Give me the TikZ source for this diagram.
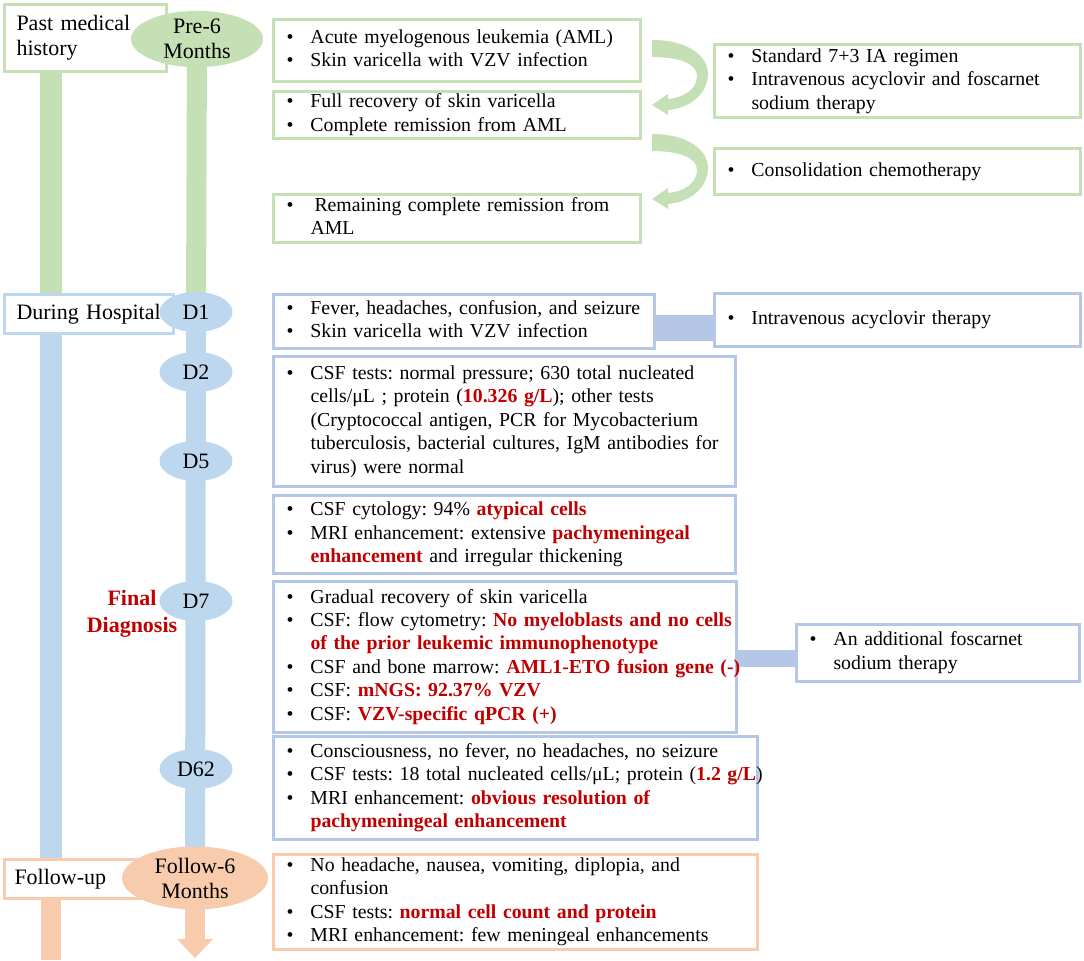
\documentclass[tikz,border=0pt]{standalone}
\usepackage{fontspec}
\setmainfont{Liberation Serif}
\usetikzlibrary{shapes.geometric,calc}
\pgfdeclarelayer{bg}
\pgfsetlayers{bg,main}
\definecolor{gr}{HTML}{C5E0B4}
\definecolor{bl}{HTML}{BDD7EE}
\definecolor{blb}{HTML}{B4C7E7}
\definecolor{orc}{HTML}{F8CBAD}
\definecolor{redc}{HTML}{C00000}
\frenchspacing
\newcommand{\bodyf}{\fontsize{14.85pt}{17.6pt}\selectfont}
\newcommand{\labf}{\fontsize{16.5pt}{18.75pt}\selectfont}
\newcommand{\rb}[1]{\textcolor{redc}{\textbf{#1}}}
\newcommand{\blist}[1]{\noindent\hspace*{9.75pt}\begin{tabular}{@{}p{18pt}@{}l@{}}#1\end{tabular}}
\newcommand{\bu}{\textbullet}
\begin{document}
\begin{tikzpicture}[x=0.75pt,y=-0.75pt,
  tbox/.style={draw, line width=2.25pt, fill=white, anchor=north west, inner xsep=0pt, inner ysep=0pt, align=left, font=\bodyf},
  lab/.style={draw, line width=2.25pt, fill=white, anchor=north west, inner xsep=9pt, inner ysep=0pt, align=left, font=\labf},
  ell/.style={ellipse, inner sep=0pt, align=center, font=\labf},
  dell/.style={ell, fill=bl, minimum width=54.75pt, minimum height=30pt}
]
\useasboundingbox (0,0) rectangle (1084,960);
\coordinate (lx) at (51,0);
\coordinate (lend) at (51,960);
\coordinate (oarr) at (195,958);

% right-hand content boxes
\node[tbox, draw=gr, text width=275.25pt, minimum height=46.5pt] (g1) at (272,18)
  {\blist{\bu & Acute myelogenous leukemia (AML)\\ \bu & Skin varicella with VZV infection}};
\node[tbox, draw=gr, text width=275.25pt, minimum height=35.25pt] (g2) at (272,90)
  {\blist{\bu & Full recovery of skin varicella\\ \bu & Complete remission from AML}};
\node[tbox, draw=gr, text width=275.25pt, minimum height=36pt] (g3) at (272,193)
  {\blist{\bu & \hspace{3pt}Remaining complete remission from\\ & AML}};
\node[tbox, draw=gr, text width=274.5pt, minimum height=54.75pt] (ga) at (713,43)
  {\blist{\bu & Standard 7+3 IA regimen\\ \bu & Intravenous acyclovir and foscarnet\\ & sodium therapy}};
\node[tbox, draw=gr, text width=274.5pt, minimum height=34.5pt] (gb) at (713,147)
  {\blist{\bu & Consolidation chemotherapy}};
\node[tbox, draw=blb, text width=274.5pt, minimum height=39.75pt] (bc) at (713,292)
  {\blist{\bu & Intravenous acyclovir therapy}};
\node[tbox, draw=blb, text width=285.75pt, minimum height=40.5pt] (b1) at (272,293)
  {\blist{\bu & Fever, headaches, confusion, and seizure\\ \bu & Skin varicella with VZV infection}};
\node[tbox, draw=blb, text width=346.5pt, minimum height=97.5pt] (b2) at (272,355)
  {\blist{\bu & CSF tests: normal pressure; 630 total nucleated\\ & cells/μL ; protein (\rb{10.326 g/L}); other tests\\ & (Cryptococcal antigen, PCR for Mycobacterium\\ & tuberculosis, bacterial cultures, IgM antibodies for\\ & virus) were normal}};
\node[tbox, draw=blb, text width=346.5pt, minimum height=58.5pt] (b5) at (272,494)
  {\blist{\bu & CSF cytology: 94\% \rb{atypical cells}\\ \bu & MRI enhancement: extensive \rb{pachymeningeal}\\ & \rb{enhancement} and irregular thickening}};
\node[tbox, draw=blb, text width=347.25pt, minimum height=113.25pt] (b7) at (272,580)
  {\blist{\bu & Gradual recovery of skin varicella\\ \bu & CSF: flow cytometry: \rb{No myeloblasts and no cells}\\ & \rb{of the prior leukemic immunophenotype}\\ \bu & CSF and bone marrow: \rb{AML1-ETO fusion gene (-)}\\ \bu & CSF: \rb{mNGS: 92.37\% VZV}\\ \bu & CSF: \rb{VZV-specific qPCR (+)}}};
\node[tbox, draw=blb, text width=363pt, minimum height=77.25pt] (b62) at (272,735)
  {\blist{\bu & Consciousness, no fever, no headaches, no seizure\\ \bu & CSF tests: 18 total nucleated cells/μL; protein (\rb{1.2 g/L})\\ \bu & MRI enhancement: \rb{obvious resolution of}\\ & \rb{pachymeningeal enhancement}}};
\node[tbox, draw=blb, text width=212.25pt, minimum height=42.75pt] (bf) at (795,623)
  {\blist{\bu & An additional foscarnet\\ & sodium therapy}};
\node[tbox, draw=orc, text width=363pt, minimum height=71.25pt] (o1) at (272,853)
  {\blist{\bu & No headache, nausea, vomiting, diplopia, and\\ & confusion\\ \bu & CSF tests: \rb{normal cell count and protein}\\ \bu & MRI enhancement: few meningeal enhancements}};

% left phase labels
\node[lab, draw=gr, text width=103.5pt, minimum height=50.25pt] (past) at (3,3) {Past medical\\history};
\node[lab, draw=bl, text width=108.75pt, minimum height=29.25pt] (during) at (3,293) {During Hospital};
\node[lab, draw=orc, text width=103.5pt, minimum height=29.25pt, inner xsep=7.5pt] (follow) at (3,858) {Follow-up};

% time ellipses
\node[ell, fill=gr, minimum width=99pt, minimum height=39pt] (pre) at (197,39) {Pre-6\\Months};
\node[dell] (d1) at (196,312) {D1};
\node[dell] (d2) at (196,372) {D2};
\node[dell] (d5) at (196,461) {D5};
\node[dell] (d7) at (196,601) {D7};
\node[dell] (d62) at (196,769) {D62};
\node[ell, fill=orc, minimum width=109.5pt, minimum height=47.25pt] (fol6) at (195,878) {Follow-6\\Months};

\node[font=\fontsize{16.5pt}{20pt}\selectfont\bfseries, text=redc, align=center, inner sep=0pt] (fd) at (132,614) {Final\\Diagnosis};

% curved green arrows
\foreach \dy in {0,94}{
  \fill[gr, shift={(0,\dy)}] (652,40) .. controls (688,40) and (708,56) .. (708,74)
    .. controls (708,92) and (692,108) .. (668,110) -- (668,115) -- (652,105) -- (668,94) -- (668,99)
    .. controls (686,97) and (697,88) .. (697,76) .. controls (697,64) and (680,57) .. (652,57) -- cycle;
}

\begin{pgfonlayer}{bg}
  \draw[gr, line width=16pt] (past.south -| lx) -- (during.north -| lx);
  \draw[bl, line width=16pt] (during.south -| lx) -- (follow.north -| lx);
  \draw[orc, line width=15.5pt] (follow.south -| lx) -- (lend);
  \draw[gr, line width=15pt] (pre.center) -- (d1.center);
  \draw[bl, line width=15pt] (d1.center) -- (fol6.center);
  \draw[orc, line width=15pt] (fol6.center) -- ($(oarr)+(0,-18)$);
  \fill[orc] (oarr) -- ++(-18,-19) -- ++(36,0) -- cycle;
  \draw[blb, line width=19.5pt] ($(b1.east)+(0,6)$) coordinate (t1) -- (t1 -| bc.west);
  \draw[blb, line width=12.75pt] ($(b7.east)+(0,1)$) coordinate (t2) -- (t2 -| bf.west);
\end{pgfonlayer}
\end{tikzpicture}
\end{document}
